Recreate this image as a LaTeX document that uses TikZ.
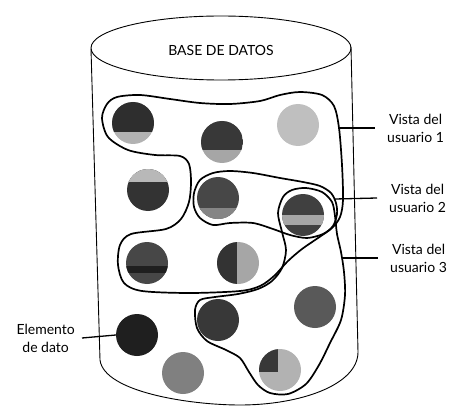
\documentclass[tikz,border=0pt]{standalone}
\usepackage{fontspec}
\setmainfont{Lato}
\begin{document}
\begin{tikzpicture}[
        x=1pt, y=-1pt,
        line join=round,
        font=\fontsize{14}{18}\selectfont,
        % estilos
        pared/.style={line width=0.9pt},
        vista/.style={line width=1.7pt},
        guia/.style={line width=1.3pt},
        dato/.style={circle, minimum size=42pt, inner sep=0pt, fill=#1},
        dato/.default=black!70,
        banda/.style n args={3}{path picture={\fill[#1] ([yshift=#2]path picture bounding box.west) rectangle ([yshift=#3]path picture bounding box.east);}},
        cuadro/.style n args={3}{path picture={\fill[#1] (path picture bounding box.north west) rectangle ([xshift=#2,yshift=#3]path picture bounding box.center);}},
        rotulo/.style={align=center, inner xsep=12pt, inner ysep=0pt},
    ]
    \useasboundingbox (0,0) rectangle (449,406);

    % cilindro
    \draw[pared] (221,48) ellipse [x radius=130, y radius=32];
    \draw[pared] (91,49) -- (100,360)
        .. controls (104,392) and (190,405) .. (240,405)
        .. controls (300,405) and (358,385) .. (358,352) -- (351,47);
    \node (titulo) at (221,50) {BASE DE DATOS};

    % elementos de dato
    \node[dato=black!30, banda={black!82}{25pt}{-9pt}]  (d1)  at (133,123) {};
    \node[dato=black!35, banda={black!78}{25pt}{-8pt}]  (d2)  at (222,142) {};
    \node[dato=black!25]                                (d3)  at (298,125) {};
    \node[dato=black!80, banda={black!28}{25pt}{8pt}]   (d4)  at (148,190) {};
    \node[dato=black!72, banda={black!48}{-10pt}{-25pt}] (d5) at (218,198) {};
    \node[dato=black!75, banda={black!35}{0pt}{-10pt}]  (d6)  at (303,215) {};
    \node[dato=black!72, banda={black!88}{-3pt}{-10pt}] (d7)  at (147,263) {};
    \node[dato=black!35, cuadro={black!80}{-1pt}{-25pt}] (d8) at (238,263) {};
    \node[dato=black!65]                                (d9)  at (315,307) {};
    \node[dato=black!78]                                (d10) at (218,320) {};
    \node[dato=black!88]                                (d11) at (137,335) {};
    \node[dato=black!50]                                (d12) at (183,373) {};
    \node[dato=black!30, cuadro={black!78}{-2pt}{-2pt}] (d13) at (280,370) {};

    % vista del usuario 1
    \draw[vista] plot[smooth cycle] coordinates {
        (117,97) (140,95) (170,99) (200,103) (230,104) (260,101) (280,95)
        (300,92) (322,95) (334,106) (339,128) (342,165) (343,200) (340,217)
        (332,228) (318,238) (302,249) (288,261) (274,276) (260,286) (240,291)
        (190,293) (142,291) (124,283) (118,265) (120,245) (131,234) (166,229)
        (181,219) (189,202) (191,182) (189,164) (180,156) (155,155) (128,150)
        (108,137) (102,118) (107,104)};
    % vista del usuario 2
    \draw[vista] plot[smooth cycle] coordinates {
        (194,193) (200,180) (213,173) (230,171) (253,173) (280,178) (303,182)
        (320,186) (331,193) (336,203) (337,214) (333,226) (323,234) (307,238)
        (290,235) (273,229) (253,223) (230,223) (213,225) (200,218) (194,207)};
    % vista del usuario 3
    \draw[vista] plot[smooth cycle] coordinates {
        (306,188) (322,192) (332,202) (335,216) (337,234) (341,252) (344,272)
        (345,295) (341,320) (330,343) (319,365) (306,384) (288,394) (270,393)
        (258,385) (249,372) (240,358) (226,350) (207,341) (197,328) (195,310)
        (200,300) (215,297) (238,294) (258,289) (272,281) (282,268) (286,250)
        (282,232) (278,213) (283,197) (292,190)};

    % rotulos
    \coordinate (v1p) at (339,128);
    \coordinate (v2p) at (335,199);
    \coordinate (v3p) at (342,258);
    \node[rotulo, anchor=west] (u1) at (375,128) {Vista del\\usuario 1};
    \node[rotulo, anchor=west] (u2) at (377,198) {Vista del\\usuario 2};
    \node[rotulo, anchor=west] (u3) at (378,258) {Vista del\\usuario 3};
    \node[rotulo, anchor=east, inner xsep=7pt] (elem) at (82,338) {Elemento\\de dato};
    \draw[guia] (v1p) -- (u1.west);
    \draw[guia] (v2p) -- (u2.west);
    \draw[guia] (v3p) -- (u3.west);
    \draw[guia] (elem.east) -- (d11.west);
\end{tikzpicture}
\end{document}
